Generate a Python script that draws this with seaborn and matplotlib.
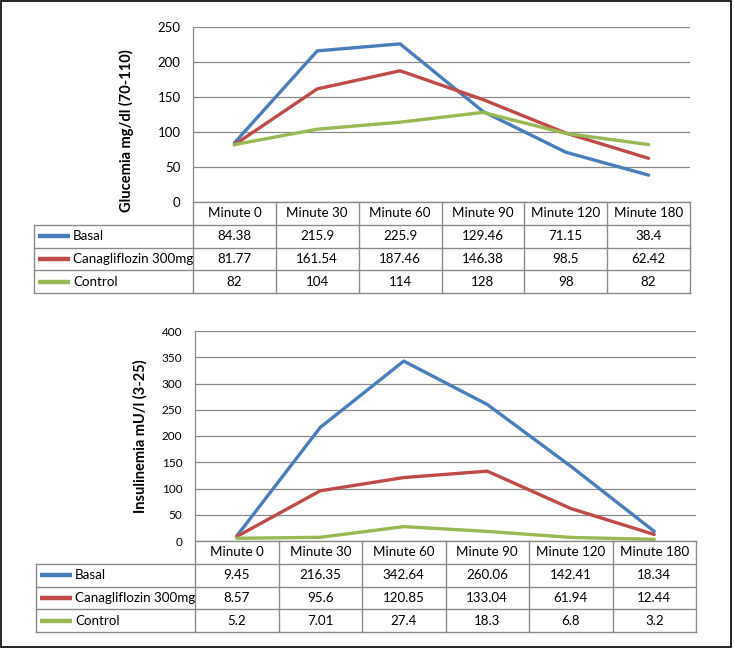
import numpy as np
import pandas as pd
import seaborn as sns
import matplotlib.pyplot as plt
from matplotlib.patches import Rectangle

minutes = ["Minute 0", "Minute 30", "Minute 60", "Minute 90", "Minute 120", "Minute 180"]
groups = ["Basal", "Canagliflozin 300mg", "Control"]

glucemia_basal = [84.38, 215.9, 225.9, 129.46, 71.15, 38.4]
glucemia_cana = [81.77, 161.54, 187.46, 146.38, 98.5, 62.42]
glucemia_control = [82, 104, 114, 128, 98, 82]

insulinemia_basal = [9.45, 216.35, 342.64, 260.06, 142.41, 18.34]
insulinemia_cana = [8.57, 95.6, 120.85, 133.04, 61.94, 12.44]
insulinemia_control = [5.2, 7.01, 27.4, 18.3, 6.8, 3.2]

colors = ["#4A7EBB", "#BE4B48", "#98B954"]
GRID = "#8A8A8A"

sns.set_style("white")
plt.rcParams['font.family'] = ['Lato', 'DejaVu Sans']

W, H = 734, 649
fig = plt.figure(figsize=(W / 100, H / 100), dpi=100)


def px_axes(x0, y0, x1, y1):
    return fig.add_axes([x0 / W, 1 - y1 / H, (x1 - x0) / W, (y1 - y0) / H])


def draw_panel(series, ylabel, ymax, box, table_left, table_bottom, label_xy, tick_size):
    x0, y0, x1, y1 = box
    df = pd.DataFrame({
        'pos': list(range(len(minutes))) * len(groups),
        'value': [v for s in series for v in s],
        'group': [g for g in groups for _ in minutes],
    })

    ax = px_axes(x0, y0, x1, y1)
    sns.lineplot(data=df, x='pos', y='value', hue='group', palette=dict(zip(groups, colors)),
                 linewidth=2.4, legend=False, sort=False, ax=ax)
    ax.set_xlim(-0.5, len(minutes) - 0.5)
    ax.set_ylim(0, ymax)
    ax.set_yticks(np.arange(0, ymax + 1, 50))
    ax.set_xticks([])
    ax.set_xlabel('')
    ax.grid(axis='y', color=GRID, lw=0.9)
    ax.set_axisbelow(True)
    for side in ['top', 'right', 'bottom']:
        ax.spines[side].set_visible(False)
    ax.spines['left'].set_color(GRID)
    ax.spines['left'].set_linewidth(0.9)
    ax.tick_params(axis='y', length=0, pad=9, labelsize=tick_size, labelcolor='black')
    ax.set_ylabel(ylabel, fontweight='bold', fontsize=10.5, va='center', color='black')
    ax.yaxis.set_label_coords(*label_xy)

    # data table under the chart
    tab = px_axes(table_left, y1, x1, table_bottom)
    col_w = (x1 - x0) / len(minutes)
    lw = (x0 - table_left) / col_w
    left = -0.5 - lw
    right = len(minutes) - 0.5
    tab.set_xlim(left, right)
    tab.set_ylim(4, 0)
    tab.axis('off')
    kw = dict(color=GRID, lw=1.0, clip_on=False, solid_capstyle='projecting')
    tab.plot([-0.5, right], [0, 0], **kw)
    for r in range(1, 5):
        tab.plot([left, right], [r, r], **kw)
    tab.plot([left, left], [1, 4], **kw)
    for k in range(len(minutes) + 1):
        tab.plot([k - 0.5, k - 0.5], [0, 4], **kw)
    for i, m in enumerate(minutes):
        tab.text(i, 0.5, m, ha='center', va='center', fontsize=9.6, color='black')
    for r, (g, c, s) in enumerate(zip(groups, colors, series)):
        y = r + 1.5
        tab.plot([left + 4 / col_w, left + 36 / col_w], [y, y], color=c, lw=3.2,
                 solid_capstyle='butt', clip_on=False)
        tab.text(left + 39 / col_w, y, g, ha='left', va='center', fontsize=9.6, color='black')
        for i, v in enumerate(s):
            tab.text(i, y, f"{v:g}", ha='center', va='center', fontsize=9.6, color='black')


draw_panel([glucemia_basal, glucemia_cana, glucemia_control], "Glucemia mg/dl (70-110)", 250,
           (193, 27, 690, 202), 34, 293, (-0.133, 0.41), 9.5)
draw_panel([insulinemia_basal, insulinemia_cana, insulinemia_control], "Insulinemia mU/l (3-25)", 400,
           (195, 331, 696, 541), 36, 632, (-0.11, 0.5), 8.5)

fig.add_artist(Rectangle((1 / W, 1 - 647 / H), 730 / W, 646 / H, transform=fig.transFigure,
                         fill=False, ec='black', lw=1.2))

fig.savefig('out.png', dpi=100)
